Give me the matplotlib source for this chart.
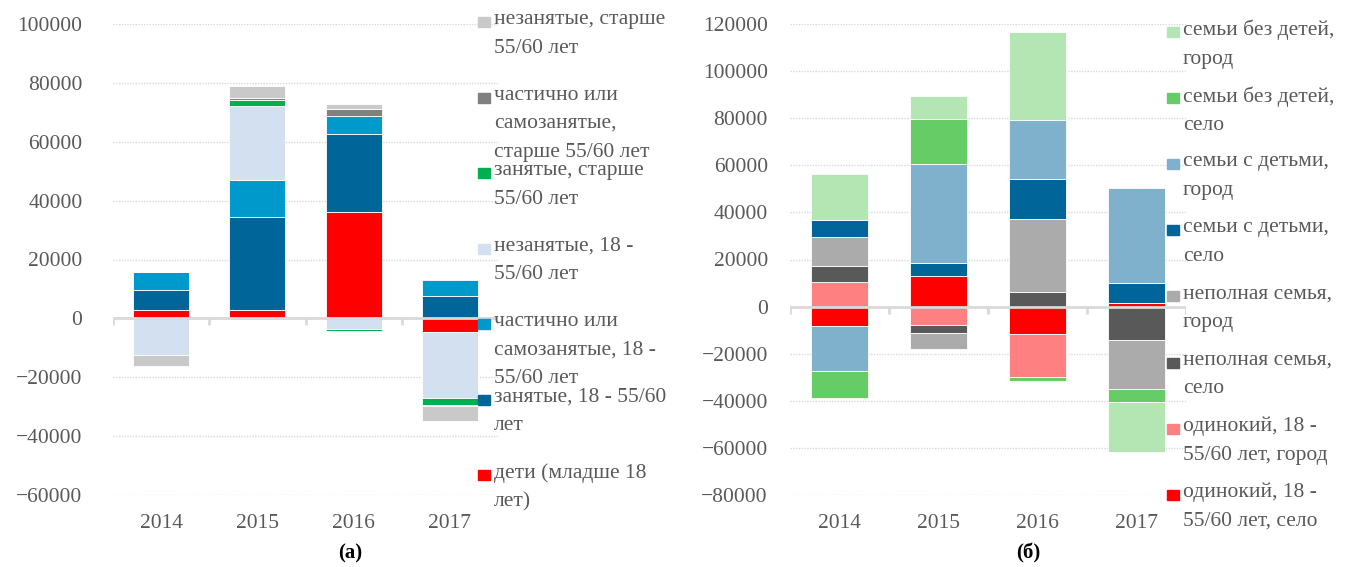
import numpy as np
import matplotlib
matplotlib.use("Agg")
import matplotlib.pyplot as plt
from matplotlib.patches import Rectangle

plt.rcParams['font.family'] = ['Liberation Serif', 'DejaVu Serif']

years = ['2014', '2015', '2016', '2017']

# (a) by employment status
labels_a = ['дети (младше 18\nлет)',
            'занятые, 18 - 55/60\nлет',
            'частично или\nсамозанятые, 18 -\n55/60 лет',
            'незанятые, 18 -\n55/60 лет',
            'занятые, старше\n55/60 лет',
            'частично или\nсамозанятые,\nстарше 55/60 лет',
            'незанятые, старше\n55/60 лет']
deti = [2700, 2700, 36200, -4600]
zan_18 = [7000, 31600, 26500, 7700]
chast_18 = [6000, 12800, 6000, 5300]
nezan_18 = [-12300, 25100, -3500, -22300]
zan_st = [-300, 2100, -800, -2500]
chast_st = [0, 600, 2300, -500]
nezan_st = [-3700, 4000, 1900, -5100]
colors_a = ['#ff0000', '#006699', '#0099cc', '#d2e0f0', '#00b050', '#808080', '#c9c9c9']

# (б) by household type
labels_b = ['одинокий, 18 -\n55/60 лет, село',
            'одинокий, 18 -\n55/60 лет, город',
            'неполная семья,\nсело',
            'неполная семья,\nгород',
            'семьи с детьми,\nсело',
            'семьи с детьми,\nгород',
            'семьи без детей,\nсело',
            'семьи без детей,\nгород']
od_selo = [-8300, 13200, -11500, 1600]
od_gorod = [10400, -7700, -18400, 0]
nep_selo = [6900, -3500, 6100, -14100]
nep_gorod = [12300, -6900, 31300, -20700]
det_selo = [7200, 5500, 16700, 8400]
det_gorod = [-19200, 41900, 25300, 40400]
bez_selo = [-11200, 18900, -1500, -5700]
bez_gorod = [19400, 10000, 37200, -21200]
colors_b = ['#ff0000', '#ff8080', '#595959', '#ababab', '#006699', '#7fb1cc', '#66cc66', '#b3e6b3']

series_a = [deti, zan_18, chast_18, nezan_18, zan_st, chast_st, nezan_st]
series_b = [od_selo, od_gorod, nep_selo, nep_gorod, det_selo, det_gorod, bez_selo, bez_gorod]

txt_col = '#595959'
fs = 15.5


def stacked(ax, series, colors, ylim, step):
    x = np.arange(len(years))
    pos = np.zeros(len(years))
    neg = np.zeros(len(years))
    for vals, c in zip(series, colors):
        v = np.array(vals, dtype=float)
        bottom = np.where(v >= 0, pos, neg)
        ax.bar(x, v, 0.58, bottom=bottom, color=c, edgecolor='white', linewidth=0.6, zorder=3)
        pos = pos + np.where(v > 0, v, 0)
        neg = neg + np.where(v < 0, v, 0)
    ax.set_xlim(-0.5, len(years) - 0.5)
    ax.set_ylim(*ylim)
    ax.set_yticks(np.arange(ylim[0], ylim[1] + 1, step))
    ax.yaxis.grid(True, linestyle=(0, (1, 1)), color='#d9d9d9', linewidth=1, zorder=0)
    for s in ax.spines.values():
        s.set_visible(False)
    ax.axhline(0, color='#d9d9d9', linewidth=2, zorder=4)
    tl = 0.015 * (ylim[1] - ylim[0])
    ax.vlines(np.arange(len(years) + 1) - 0.5, -tl, 0, color='#d9d9d9', linewidth=2, zorder=4)
    ax.set_xticks(x)
    ax.set_xticklabels(years)
    ax.tick_params(axis='both', length=0, labelsize=fs, labelcolor=txt_col)
    ax.tick_params(axis='x', pad=14)


def legend(fig, labels, colors, x_sq, x_txt, y0, dy):
    W, H = fig.get_size_inches() * fig.dpi
    for i, (lab, c) in enumerate(zip(labels[::-1], colors[::-1])):
        yc = y0 + i * dy
        fig.patches.append(Rectangle((x_sq / W, 1 - (yc + 5) / H), 12 / W, 10 / H,
                                     transform=fig.transFigure, color=c, figure=fig))
        fig.text(x_txt / W, 1 - (yc - 12) / H, lab, fontsize=fs, color=txt_col,
                 va='top', ha='left', linespacing=1.68)


fig = plt.figure(figsize=(13.47, 5.67), dpi=100)
W, H = 1347, 567
ax1 = fig.add_axes([113 / W, 1 - 495 / H, 385 / W, 471 / H])
ax2 = fig.add_axes([790 / W, 1 - 495 / H, 396 / W, 471 / H])

stacked(ax1, series_a, colors_a, (-60000, 100000), 20000)
stacked(ax2, series_b, colors_b, (-80000, 120000), 20000)
ax1.tick_params(axis='y', pad=22)
ax2.tick_params(axis='y', pad=16)

legend(fig, labels_a, colors_a, 478, 494, 22, 75.5)
legend(fig, labels_b, colors_b, 1167, 1183, 32, 66.1)

fig.text(350 / W, 1 - 553 / H, '(a)', fontsize=15, fontweight='bold', ha='center', va='center')
fig.text(1028 / W, 1 - 553 / H, '(б)', fontsize=15, fontweight='bold', ha='center', va='center')

fig.savefig('out.png', dpi=100)
